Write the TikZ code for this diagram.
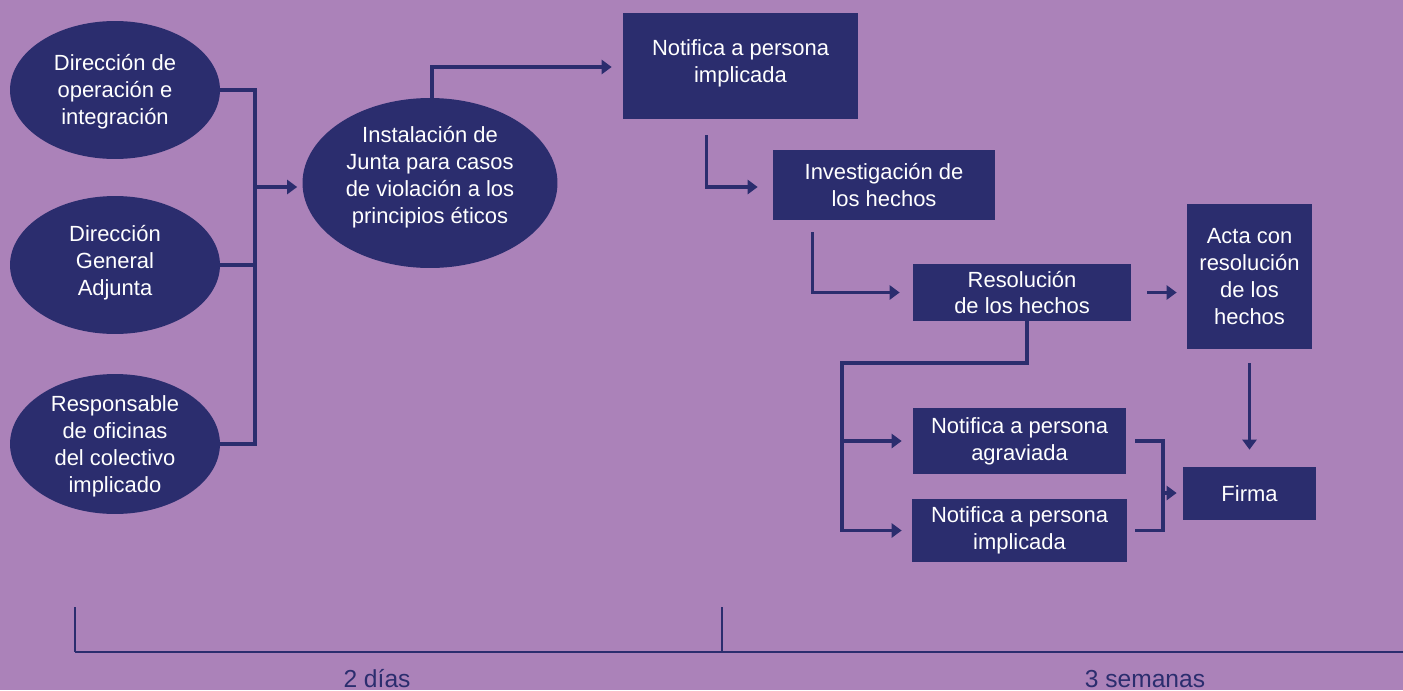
\documentclass[tikz,border=0pt]{standalone}
\usepackage{fontspec}
\setmainfont{Liberation Sans}
\usetikzlibrary{shapes.geometric,arrows.meta,calc}
\definecolor{bg}{HTML}{AB82B9}
\definecolor{navy}{HTML}{2B2D6E}
\tikzset{
  ell/.style={ellipse,fill=navy,inner sep=0pt,text=white,align=center,font=\fontsize{12.5}{15.3}\selectfont},
  box/.style={rectangle,fill=navy,inner sep=0pt,text=white,align=center,font=\fontsize{12.5}{15.3}\selectfont},
  txt/.style={text=white,align=center,font=\fontsize{12.5}{15.3}\selectfont},
  ln/.style={draw=navy,line width=1.8pt},
  ar/.style={ln,-{Triangle[length=0.2cm,width=0.28cm]}},
  tl/.style={draw=navy,line width=0.6pt},
  lab/.style={text=navy,font=\fontsize{14}{16}\selectfont,anchor=base}
}
\begin{document}
\begin{tikzpicture}[x=0.02cm,y=-0.02cm]
\useasboundingbox (0,0) rectangle (1403,690);
\fill[bg] (0,0) rectangle (1403,690);
% ellipses
\node[ell,minimum width=4.2cm,minimum height=2.76cm] (e1) at (115,90) {};
\node[txt] (e1t) at (115,92) {Dirección de\\operación e\\integración};
\node[ell,minimum width=4.2cm,minimum height=2.76cm] (e2) at (115,265) {};
\node[txt] (e2t) at (115,263) {Dirección\\General\\Adjunta};
\node[ell,minimum width=4.2cm,minimum height=2.8cm] (e3) at (115,444) {};
\node[txt] (e3t) at (115,446) {Responsable\\de oficinas\\del colectivo\\implicado};
\node[ell,minimum width=5.1cm,minimum height=3.4cm] (e4) at (430,183) {};
\node[txt] (e4t) at (430,177) {Instalación de\\Junta para casos\\de violación a los\\principios éticos};
% boxes
\node[box,minimum width=4.7cm,minimum height=2.12cm] (n1) at (740.5,66) {};
\node[txt] (n1t) at (740.5,63) {Notifica a persona\\implicada};
\node[box,minimum width=4.44cm,minimum height=1.4cm] (inv) at (884,185) {Investigación de\\los hechos};
\node[box,minimum width=4.36cm,minimum height=1.14cm] (res) at (1022,292.5) {Resolución\\de los hechos};
\node[box,minimum width=2.5cm,minimum height=2.9cm] (acta) at (1249.5,276.5) {Acta con\\resolución\\de los\\hechos};
\node[box,minimum width=2.66cm,minimum height=1.06cm] (firma) at (1249.5,493.5) {Firma};
\node[box,minimum width=4.26cm,minimum height=1.32cm] (nag) at (1019.5,441) {Notifica a persona\\agraviada};
\node[box,minimum width=4.3cm,minimum height=1.26cm] (nim) at (1019.5,530.5) {Notifica a persona\\implicada};
% left bracket
\coordinate (bx) at (255,187);
\draw[ln] (e1.east) -- (e1.east -| bx) -- (e3.east -| bx) -- (e3.east);
\draw[ln] (e2.east) -- (e2.east -| bx);
\draw[ar] (bx) -- ([xshift=-0.1cm]bx -| e4.west);
% flow
\draw[ar] ([xshift=0.04cm]e4.north) |- ([xshift=-0.22cm,yshift=-0.02cm]n1.west);
\draw[ar] ($(n1.south west)+(84,16)$) |- ([xshift=-0.3cm,yshift=-0.04cm]inv.west);
\draw[ar] ($(inv.south west)+(40,12)$) |- ([xshift=-0.26cm]res.west);
\draw[ar] ([xshift=0.32cm]res.east) -- ([xshift=-0.2cm]res.east -| acta.west);
\draw[ar] ([yshift=-0.28cm]acta.south) -- ([yshift=0.34cm]firma.north);
\coordinate (sp) at (842,363);
\draw[ar] ([xshift=0.1cm]res.south) |- (sp) |- ([xshift=-0.2cm]nim.west);
\draw[ar] (sp |- nag.west) -- ([xshift=-0.22cm]nag.west);
\coordinate (fb) at (1163,493);
\draw[ln] ([xshift=0.18cm]nag.east) -| (fb) |- ([xshift=0.16cm]nim.east);
\draw[ar] (fb) -- ([xshift=-0.12cm]fb -| firma.west);
% timeline
\coordinate (t0) at (75,607);
\coordinate (t1) at (722,607);
\coordinate (t2) at (1403,652);
\draw[tl] (t0) -- (t0 |- t2);
\draw[tl] (t1) -- (t1 |- t2);
\draw[draw=navy,line width=1.1pt] (t0 |- t2) -- (t2);
\node[lab] (l1) at (377,687) {2 días};
\node[lab] (l2) at (1145,687) {3 semanas};
\end{tikzpicture}
\end{document}
